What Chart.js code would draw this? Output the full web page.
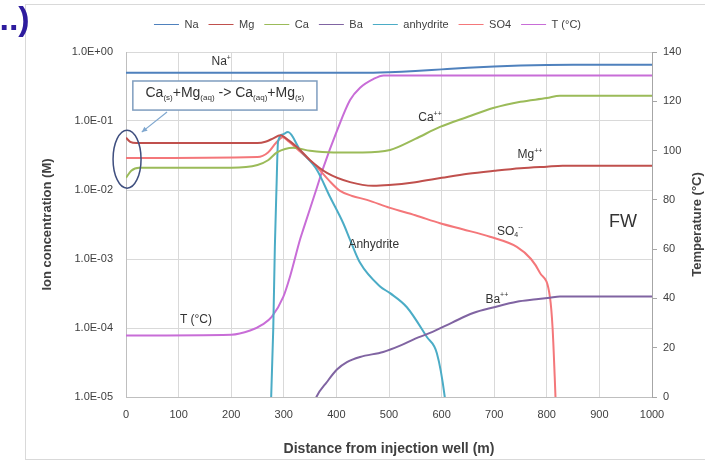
<!DOCTYPE html>
<html>
<head>
<meta charset="utf-8">
<script src="https://cdn.jsdelivr.net/npm/chart.js@4.4.1/dist/chart.umd.min.js"></script>
<style>
  body { margin: 0; background: #fff; }
</style>
</head>
<body>
<canvas id="myChart" width="705" height="462"></canvas>
<script>
// distance (m) / concentration (M)
const naDist = [0, 450, 500, 550, 600, 650, 700, 750, 800, 850, 1000];
const naConc = [0.5, 0.5, 0.51, 0.53, 0.56, 0.59, 0.615, 0.635, 0.65, 0.655, 0.655];

const mgDist = [0, 8, 20, 250, 265, 280, 293, 310, 331, 350, 382, 426, 470, 500, 550, 600, 650, 700, 750, 800, 830, 1000];
const mgConc = [0.057, 0.05, 0.048, 0.048, 0.05, 0.056, 0.062, 0.052, 0.038, 0.027, 0.0177, 0.013, 0.0115, 0.0118, 0.013, 0.015, 0.0172, 0.019, 0.0207, 0.0218, 0.0224, 0.0224];

const caDist = [0, 10, 25, 200, 250, 270, 287, 318, 350, 394, 450, 502, 550, 597, 650, 698, 750, 800, 825, 1000];
const caConc = [0.015, 0.019, 0.021, 0.021, 0.023, 0.027, 0.035, 0.041, 0.037, 0.035, 0.035, 0.038, 0.055, 0.082, 0.115, 0.154, 0.19, 0.215, 0.233, 0.233];

const baDist = [355, 362, 382, 401, 420, 445, 489, 520, 550, 578, 620, 660, 700, 743, 780, 806, 825, 1000];
const baConc = [7e-6, 1e-5, 1.65e-5, 2.5e-5, 3.2e-5, 3.8e-5, 4.5e-5, 5.5e-5, 7e-5, 8.5e-5, 1.2e-4, 1.65e-4, 2.0e-4, 2.4e-4, 2.6e-4, 2.75e-4, 2.85e-4, 2.85e-4];

const anhDist = [274, 276, 280, 283, 286, 289, 298, 308, 331, 363, 388, 413, 426, 445, 483, 502, 534, 572, 591, 606, 610];
const anhConc = [5e-6, 1e-5, 1e-4, 1.5e-3, 0.01, 0.05, 0.064, 0.069, 0.038, 0.0195, 0.0079, 0.0033, 0.0019, 8.8e-4, 4e-4, 3.2e-4, 2e-4, 7.4e-5, 4.3e-5, 1e-5, 5e-6];

const so4Dist = [0, 250, 270, 285, 298, 310, 331, 363, 385, 407, 430, 458, 502, 550, 597, 640, 692, 743, 770, 787, 806, 811, 815, 818];
const so4Conc = [0.029, 0.03, 0.035, 0.048, 0.058, 0.05, 0.036, 0.0215, 0.014, 0.0097, 0.0082, 0.0072, 0.0055, 0.0043, 0.0033, 0.0027, 0.0021, 0.0015, 0.001, 6.3e-4, 2.8e-4, 1e-4, 2e-5, 5e-6];

const tDist = [0, 200, 236, 260, 277, 299, 312, 331, 337, 363, 375, 401, 426, 445, 470, 490, 520, 1000];
const tempC = [25, 25.3, 27, 29.5, 32.5, 40.6, 49, 64, 68, 85, 93, 108, 120.5, 125.5, 129, 130.5, 130.5, 130.5];

const concTicks = [1e-5, 1e-4, 1e-3, 1e-2, 1e-1, 1];

// text labels placed in data units: [parts, distance, concentration]  (parts: 0 normal, 1 sub, -1 sup)
const curveLabels = [
  [[['Na', 0], ['+', -1]], 181, 0.72],
  [[['Ca', 0], ['++', -1]], 578, 0.11],
  [[['Mg', 0], ['++', -1]], 768, 0.032],
  [[['SO', 0], ['4', 1], ['--', -1]], 730, 0.0025],
  [[['Anhydrite', 0]], 471, 0.0016],
  [[['Ba', 0], ['++', -1]], 705, 2.6e-4],
  [[['T (°C)', 0]], 133, 1.3e-4]
];

const pts = (xs, ys) => xs.map((x, i) => ({ x: x, y: ys[i] }));

function expLabel(v) {
  const e = Math.round(Math.log10(v));
  return '1.0E' + (e < 0 ? '-' : '+') + String(Math.abs(e)).padStart(2, '0');
}

function richText(ctx, parts, cx, cy, size, color) {
  const small = Math.round(size * 0.6);
  let w = 0;
  parts.forEach(p => {
    ctx.font = (p[1] ? small : size) + 'px "Liberation Sans", Arial, sans-serif';
    w += ctx.measureText(p[0]).width;
  });
  let x = cx - w / 2;
  ctx.fillStyle = color;
  ctx.textAlign = 'left';
  ctx.textBaseline = 'middle';
  parts.forEach(p => {
    ctx.font = (p[1] ? small : size) + 'px "Liberation Sans", Arial, sans-serif';
    const dy = p[1] === 1 ? size * 0.3 : (p[1] === -1 ? -size * 0.35 : 0);
    ctx.fillText(p[0], x, cy + dy);
    x += ctx.measureText(p[0]).width;
  });
}

const decorations = {
  id: 'decorations',
  beforeDraw(chart) {
    const ctx = chart.ctx;
    ctx.save();
    ctx.fillStyle = '#fff';
    ctx.fillRect(0, 0, chart.width, chart.height);
    ctx.strokeStyle = '#D9D9D9';
    ctx.lineWidth = 1;
    ctx.strokeRect(25.5, 4.5, 690, 455);
    ctx.fillStyle = '#2E1C9E';
    ctx.font = 'bold 34px "Liberation Sans", Arial, sans-serif';
    ctx.textBaseline = 'alphabetic';
    ctx.fillText('...)', -10, 30);
    ctx.restore();
  },
  afterDraw(chart) {
    // right axis title, reading bottom to top as in the original
    const ctx = chart.ctx;
    const a = chart.chartArea;
    ctx.save();
    ctx.translate(697, (a.top + a.bottom) / 2);
    ctx.rotate(-Math.PI / 2);
    ctx.fillStyle = '#404040';
    ctx.font = 'bold 13px "Liberation Sans", Arial, sans-serif';
    ctx.textAlign = 'center';
    ctx.textBaseline = 'middle';
    ctx.fillText('Temperature (°C)', 0, 0);
    ctx.restore();
  },
  afterDatasetsDraw(chart) {
    const ctx = chart.ctx;
    const xs = chart.scales.x, ys = chart.scales.y;
    ctx.save();
    curveLabels.forEach(l => {
      richText(ctx, l[0], xs.getPixelForValue(l[1]), ys.getPixelForValue(l[2]), 12, '#333');
    });
    ctx.fillStyle = '#333';
    ctx.font = '18px "Liberation Sans", Arial, sans-serif';
    ctx.textAlign = 'center';
    ctx.textBaseline = 'middle';
    ctx.fillText('FW', xs.getPixelForValue(945), ys.getPixelForValue(0.0034));

    // reaction box
    const bx0 = xs.getPixelForValue(13), bx1 = xs.getPixelForValue(363);
    const by0 = ys.getPixelForValue(0.38), by1 = ys.getPixelForValue(0.144);
    ctx.fillStyle = '#fff';
    ctx.fillRect(bx0, by0, bx1 - bx0, by1 - by0);
    ctx.strokeStyle = '#7F9DBF';
    ctx.lineWidth = 1.5;
    ctx.strokeRect(bx0, by0, bx1 - bx0, by1 - by0);
    richText(ctx, [['Ca', 0], ['(s)', 1], ['+Mg', 0], ['(aq)', 1], [' -> Ca', 0], ['(aq)', 1], ['+Mg', 0], ['(s)', 1]],
      (bx0 + bx1) / 2, (by0 + by1) / 2 - 2, 14, '#333');

    // arrow to the ellipse
    const ax0 = xs.getPixelForValue(78), ay0 = ys.getPixelForValue(0.135);
    const ax1 = xs.getPixelForValue(30), ay1 = ys.getPixelForValue(0.069);
    ctx.strokeStyle = '#7FA7CF';
    ctx.fillStyle = '#7FA7CF';
    ctx.lineWidth = 1.2;
    ctx.beginPath();
    ctx.moveTo(ax0, ay0);
    ctx.lineTo(ax1, ay1);
    ctx.stroke();
    const ang = Math.atan2(ay1 - ay0, ax1 - ax0);
    ctx.beginPath();
    ctx.moveTo(ax1, ay1);
    ctx.lineTo(ax1 - 6 * Math.cos(ang - 0.45), ay1 - 6 * Math.sin(ang - 0.45));
    ctx.lineTo(ax1 - 6 * Math.cos(ang + 0.45), ay1 - 6 * Math.sin(ang + 0.45));
    ctx.closePath();
    ctx.fill();

    // ellipse around the inlet
    ctx.strokeStyle = '#3F4F7F';
    ctx.lineWidth = 1.5;
    ctx.beginPath();
    ctx.ellipse(xs.getPixelForValue(2), ys.getPixelForValue(0.028), 14, 29, 0, 0, Math.PI * 2);
    ctx.stroke();
    ctx.restore();
  }
};

Chart.defaults.font.family = '"Liberation Sans", Arial, sans-serif';
Chart.defaults.font.size = 11;
Chart.defaults.color = '#404040';

const ctx = document.getElementById('myChart');

const chart = new Chart(ctx, {
  type: 'line',
  data: {
    datasets: [
      { label: 'Na', data: pts(naDist, naConc), borderColor: '#4F81BD', backgroundColor: '#4F81BD' },
      { label: 'Mg', data: pts(mgDist, mgConc), borderColor: '#C0504D', backgroundColor: '#C0504D' },
      { label: 'Ca', data: pts(caDist, caConc), borderColor: '#9BBB59', backgroundColor: '#9BBB59' },
      { label: 'Ba', data: pts(baDist, baConc), borderColor: '#8064A2', backgroundColor: '#8064A2' },
      { label: 'anhydrite', data: pts(anhDist, anhConc), borderColor: '#4BACC6', backgroundColor: '#4BACC6' },
      { label: 'SO4', data: pts(so4Dist, so4Conc), borderColor: '#F4777A', backgroundColor: '#F4777A' },
      { label: 'T (°C)', data: pts(tDist, tempC), borderColor: '#C86DD7', backgroundColor: '#C86DD7', yAxisID: 'yT' }
    ]
  },
  options: {
    responsive: false,
    animation: false,
    layout: { padding: { left: 30, top: 9, right: 0, bottom: 0 } },
    elements: {
      point: { radius: 0 },
      line: { borderWidth: 2, cubicInterpolationMode: 'monotone' }
    },
    plugins: {
      legend: {
        position: 'top',
        labels: { usePointStyle: true, pointStyle: 'line', pointStyleWidth: 25, padding: 10, font: { size: 11 } }
      },
      title: { display: true, text: ' ', weight: 500, font: { size: 1 }, padding: { top: 0, bottom: 10.8 } },
      tooltip: { enabled: false }
    },
    scales: {
      x: {
        type: 'linear', min: 0, max: 1000,
        ticks: { stepSize: 100, padding: 11, callback: v => String(v) },
        grid: { color: '#D9D9D9', drawTicks: false },
        border: { color: '#BFBFBF' },
        title: { display: true, text: 'Distance from injection well (m)', font: { size: 14, weight: 'bold' }, padding: { top: 0, bottom: 4 } },
        afterFit: s => { s.height = 65; }
      },
      y: {
        type: 'logarithmic', position: 'left', min: 1e-5, max: 1,
        afterBuildTicks: s => { s.ticks = concTicks.map(v => ({ value: v })); },
        ticks: { callback: v => expLabel(v), padding: 13, autoSkip: false },
        grid: { color: '#D9D9D9', drawTicks: false },
        border: { color: '#BFBFBF' },
        title: { display: true, text: 'Ion concentration (M)', font: { size: 13, weight: 'bold' }, padding: { top: 10, bottom: 0 } },
        afterFit: s => { s.width = 96; }
      },
      yT: {
        type: 'linear', position: 'right', min: 0, max: 140,
        ticks: { stepSize: 20, padding: 6 },
        grid: { drawOnChartArea: false, tickLength: 5, color: '#A6A6A6' },
        border: { color: '#A6A6A6' },
        afterFit: s => { s.width = 53; }
      }
    }
  },
  plugins: [decorations]
});
</script>
</body>
</html>
